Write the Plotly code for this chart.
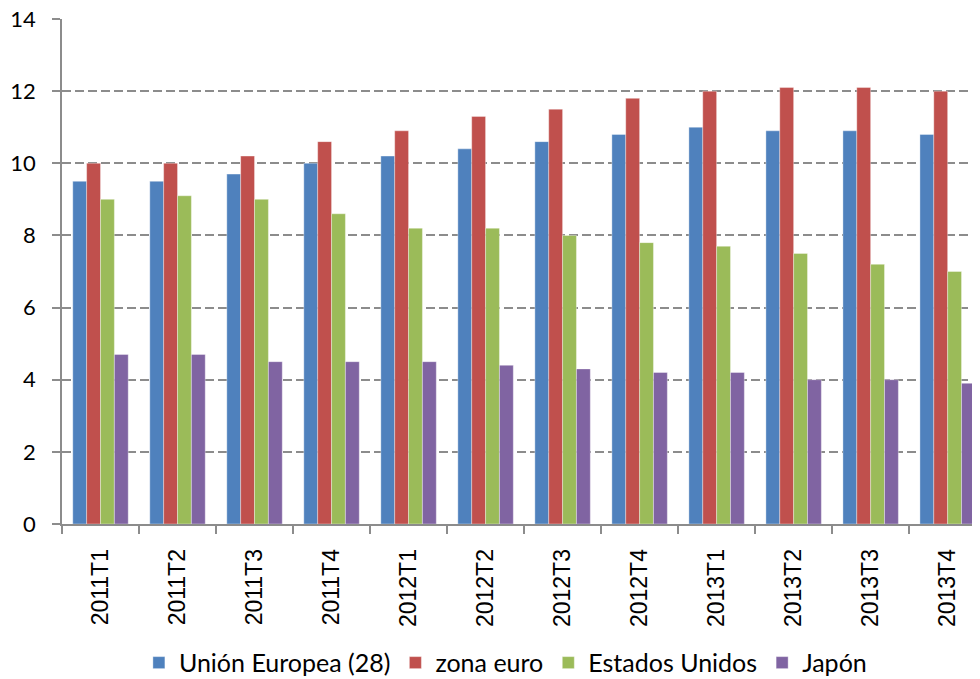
import plotly.graph_objects as go

categories = ["2011T1", "2011T2", "2011T3", "2011T4", "2012T1", "2012T2",
              "2012T3", "2012T4", "2013T1", "2013T2", "2013T3", "2013T4"]
ue28 = [9.5, 9.5, 9.7, 10.0, 10.2, 10.4, 10.6, 10.8, 11.0, 10.9, 10.9, 10.8]
zona_euro = [10.0, 10.0, 10.2, 10.6, 10.9, 11.3, 11.5, 11.8, 12.0, 12.1, 12.1, 12.0]
eeuu = [9.0, 9.1, 9.0, 8.6, 8.2, 8.2, 8.0, 7.8, 7.7, 7.5, 7.2, 7.0]
japon = [4.7, 4.7, 4.5, 4.5, 4.5, 4.4, 4.3, 4.2, 4.2, 4.0, 4.0, 3.9]
y_ticks = [0, 2, 4, 6, 8, 10, 12, 14]

series = [
    ("Unión Europea (28)", ue28, "#4F81BD"),
    ("zona euro", zona_euro, "#C0504D"),
    ("Estados Unidos", eeuu, "#9BBB59"),
    ("Japón", japon, "#8064A2"),
]

fig = go.Figure()
for name, vals, col in series:
    fig.add_trace(go.Bar(
        x=categories, y=vals, name=name,
        marker=dict(color=col, line=dict(color="rgba(255,255,255,0.6)", width=0.6)),
    ))

AX = "#8c8c8c"
fig.update_layout(
    width=972, height=679,
    margin=dict(l=54, r=0, t=11, b=163),
    paper_bgcolor="white", plot_bgcolor="white",
    barmode="group", bargap=0.28, bargroupgap=0,
    font=dict(family="Lato, Open Sans, sans-serif", color="black"),
    showlegend=True,
    legend=dict(orientation="h", x=0.483, xanchor="center", y=-0.275, yanchor="middle",
                font=dict(size=25, family="Lato, sans-serif"),
                traceorder="normal"),
    xaxis=dict(
        type="category", range=[-0.5, 11.42],
        tickangle=-90, tickfont=dict(size=23, family="Liberation Sans, Arial, sans-serif"),
        showgrid=False, showline=True, linecolor=AX, linewidth=1.7,
        ticks="outside", tickson="boundaries", ticklen=8, tickcolor=AX, tickwidth=1.5,
        ticklabelstandoff=14, zeroline=False, automargin=False,
    ),
    yaxis=dict(
        range=[0, 14], tickmode="array", tickvals=y_ticks,
        tickfont=dict(size=22, family="Lato, sans-serif"),
        showgrid=True, gridcolor=AX, griddash="9px,4px", gridwidth=1.8,
        showline=True, linecolor=AX, linewidth=1.7,
        ticks="outside", ticklen=8, tickcolor=AX, tickwidth=1.5,
        ticklabelstandoff=12, ticklabeloverflow="allow", zeroline=False, automargin=False,
    ),
)

fig.write_html("out.html")
